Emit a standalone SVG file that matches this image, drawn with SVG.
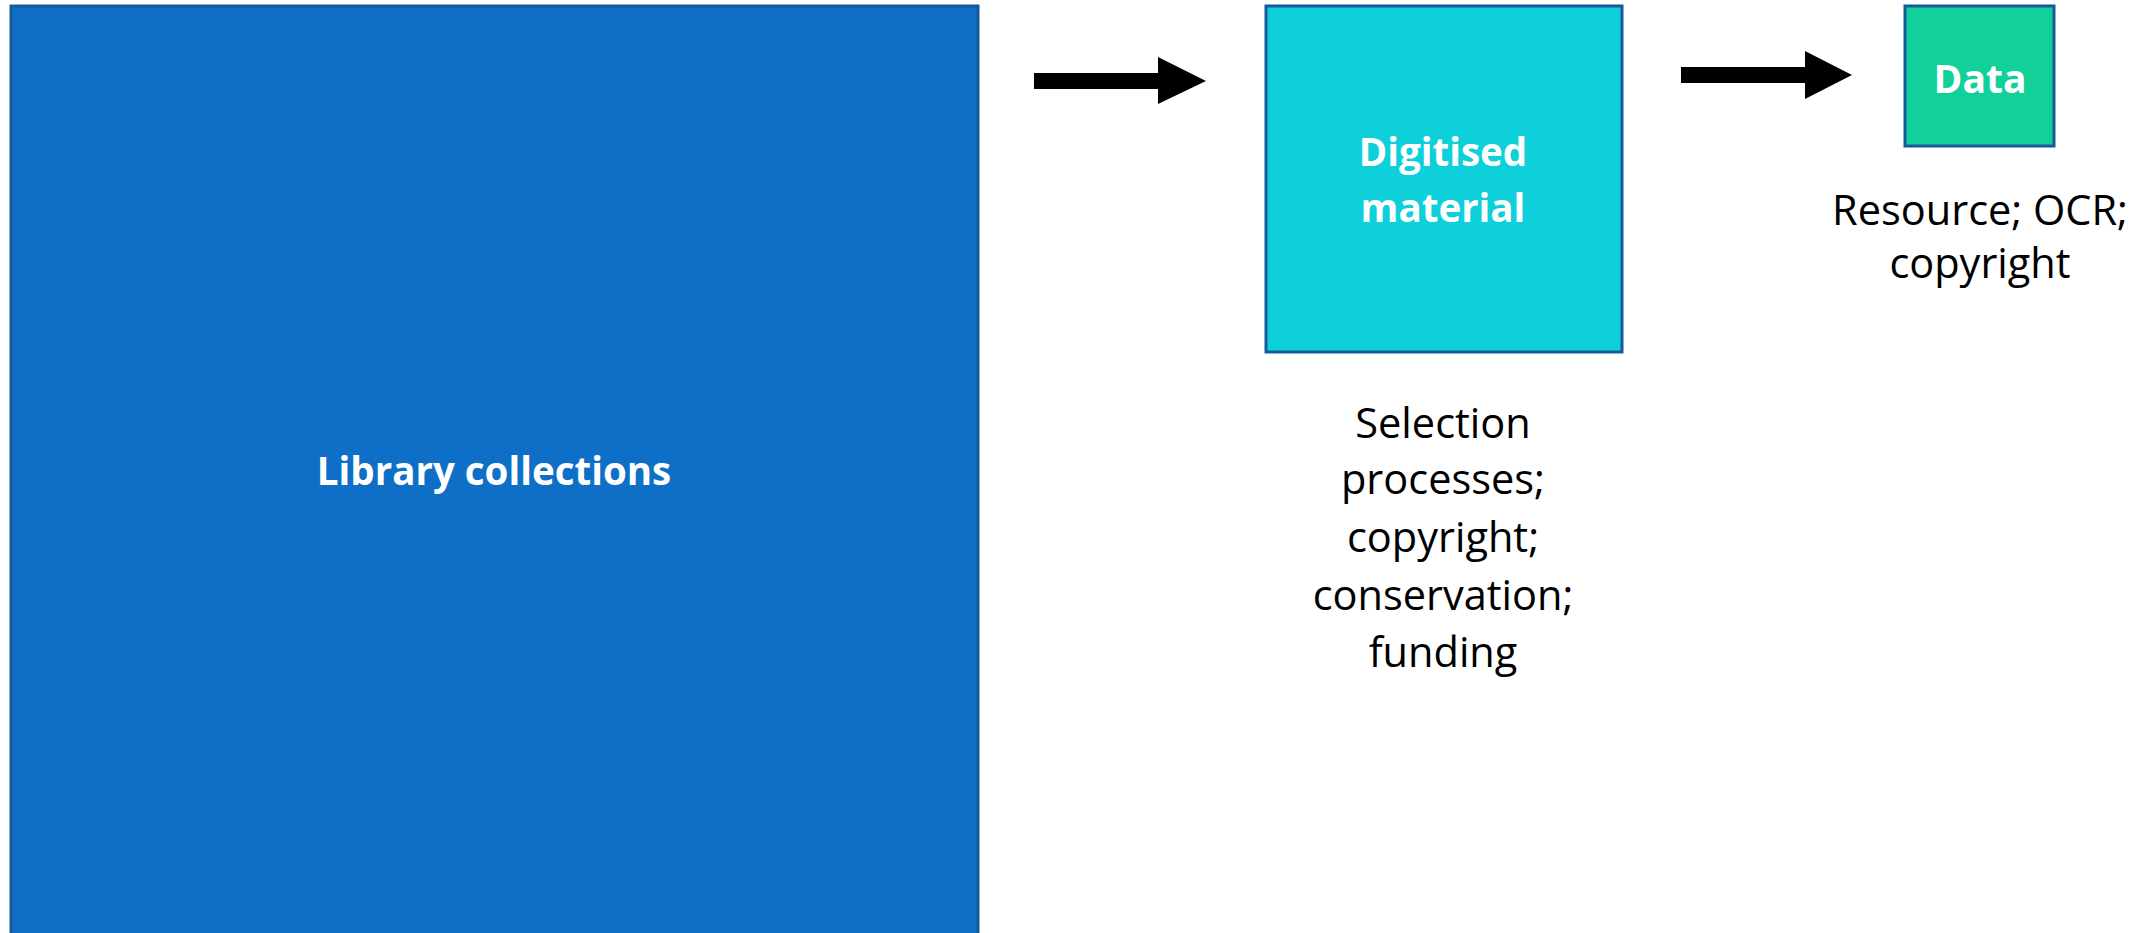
<svg xmlns="http://www.w3.org/2000/svg" width="2153" height="933" viewBox="0 0 2153 933">
<style>
.box{stroke:#175a9c;stroke-width:3}
.lbl{font-family:"Open Sans","Liberation Sans",sans-serif;font-weight:bold;fill:#ffffff;text-anchor:middle}
.note{font-family:"Open Sans","Liberation Sans",sans-serif;font-size:41.5px;fill:#000000;text-anchor:middle}
.arrow{fill:#000000}
</style>
<rect width="2153" height="933" fill="#ffffff"/>
<g id="library">
<rect class="box" x="11" y="6" width="967" height="932" fill="#0F6FC6"/>
<text class="lbl" x="494" y="485" font-size="38.5">Library collections</text>
</g>
<g id="digitised">
<rect class="box" x="1266" y="6" width="356" height="346" fill="#0DD0DA"/>
<text class="lbl" x="1443" y="166" font-size="38.5">Digitised</text>
<text class="lbl" x="1443" y="222" font-size="38.5">material</text>
<text class="note" x="1443" y="438">Selection</text>
<text class="note" x="1443" y="494">processes;</text>
<text class="note" x="1443" y="552">copyright;</text>
<text class="note" x="1443" y="610">conservation;</text>
<text class="note" x="1443" y="667">funding</text>
</g>
<g id="data">
<rect class="box" x="1905" y="6" width="149" height="140" fill="#12D09A"/>
<text class="lbl" x="1980" y="93" font-size="39">Data</text>
<text class="note" x="1980" y="225">Resource; OCR;</text>
<text class="note" x="1980" y="278">copyright</text>
</g>
<g id="connectors">
<polygon class="arrow" points="1034,73 1158,73 1158,57 1206,81 1158,104 1158,89 1034,89"/>
<polygon class="arrow" points="1681,67 1805,67 1805,51 1852,75 1805,99 1805,83 1681,83"/>
</g>
</svg>
